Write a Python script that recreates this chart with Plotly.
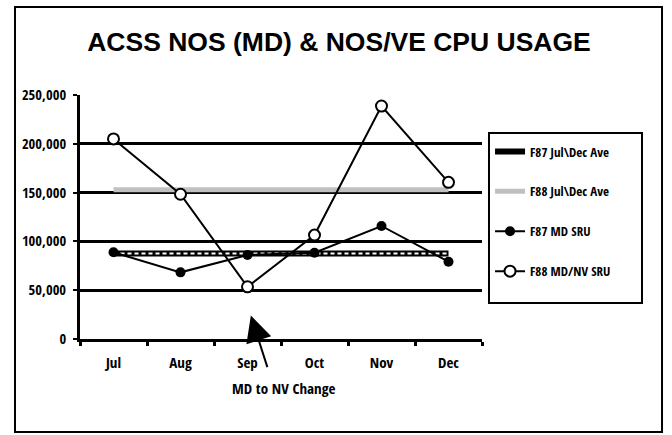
import plotly.graph_objects as go

months = ["Jul", "Aug", "Sep", "Oct", "Nov", "Dec"]
f87_ave = [87700, 87700, 87700, 87700, 87700, 87700]
f88_ave = [153000, 153000, 153000, 153000, 153000, 153000]
f87_md_sru = [88800, 68300, 86000, 88400, 115800, 79200]
f88_mdnv_sru = [205000, 148300, 53500, 106500, 238700, 160500]
y_ticks = [0, 50000, 100000, 150000, 200000, 250000]
y_tick_text = ["0", "50,000", "100,000", "150,000", "200,000", "250,000"]

FONT = "Open Sans Condensed, Roboto Condensed, Liberation Sans, Arial, sans-serif"

fig = go.Figure()

fig.add_trace(go.Scatter(x=months, y=f87_ave, mode="lines", name="F87 Jul\\Dec Ave",
                         line=dict(color="black", width=6), legendgroup="a"))
fig.add_trace(go.Scatter(x=months, y=f87_ave, mode="lines", showlegend=False,
                         line=dict(color="white", width=2, dash="4px,3px"), legendgroup="a",
                         hoverinfo="skip"))
fig.add_trace(go.Scatter(x=months, y=f88_ave, mode="lines", name="F88 Jul\\Dec Ave",
                         line=dict(color="#c0c0c0", width=5), legendgroup="b"))
fig.add_trace(go.Scatter(x=months, y=f87_md_sru, mode="lines+markers", name="F87 MD SRU",
                         line=dict(color="black", width=2),
                         marker=dict(symbol="circle", size=10, color="black"), legendgroup="c"))
fig.add_trace(go.Scatter(x=months, y=f88_mdnv_sru, mode="lines+markers", name="F88 MD/NV SRU",
                         line=dict(color="black", width=2),
                         marker=dict(symbol="circle", size=11, color="white",
                                     line=dict(color="black", width=2)), legendgroup="d"))

fig.update_layout(
    width=672, height=435,
    margin=dict(l=80, r=190, t=95, b=96),
    paper_bgcolor="white", plot_bgcolor="white",
    font=dict(family=FONT, size=13, color="black", weight="bold"),
    title=dict(text="ACSS NOS (MD) & NOS/VE CPU USAGE", x=339/672, xanchor="center",
               y=1 - 42/435, yanchor="middle", yref="container",
               font=dict(family="Liberation Sans, Arial, sans-serif", size=26.5, weight="bold", color="black")),
    showlegend=True,
    legend=dict(x=1.02, xanchor="left", y=0.83, yanchor="top",
                bgcolor="rgba(0,0,0,0)", borderwidth=0,
                tracegroupgap=20, itemwidth=30,
                font=dict(family=FONT, size=13, weight="bold")),
)

fig.update_xaxes(
    type="category", range=[-0.5, 5.5], tickson="boundaries",
    showline=True, linecolor="black", linewidth=3,
    ticks="outside", ticklen=4, tickwidth=3, tickcolor="black",
    showgrid=False, zeroline=False, ticklabelstandoff=8,
    tickfont=dict(family=FONT, size=15, weight="bold"),
)
fig.update_yaxes(
    range=[0, 250000], tickvals=y_ticks, ticktext=y_tick_text,
    showline=True, linecolor="black", linewidth=3,
    ticks="outside", ticklen=4, tickwidth=2, tickcolor="black",
    showgrid=True, gridcolor="black", gridwidth=2.5, zeroline=False,
    ticklabelstandoff=4,
    tickfont=dict(family=FONT, size=14.5, weight="bold"),
)

# outer frame
fig.add_shape(type="rect", xref="paper", yref="paper",
              x0=-0.1617, x1=1.4478, y0=-0.381, y1=1.3607,
              line=dict(color="black", width=2), fillcolor="rgba(0,0,0,0)")
# legend box
fig.add_shape(type="rect", xref="paper", yref="paper",
              x0=1.0174, x1=1.398, y0=0.1475, y1=0.844,
              line=dict(color="black", width=2), fillcolor="rgba(0,0,0,0)")

# arrow
fig.add_annotation(x=2.05, y=24000, xref="x", yref="y", ax=17, ay=53,
                   text="", showarrow=True, arrowhead=2, arrowsize=2.6, arrowwidth=2,
                   arrowcolor="black")
fig.add_annotation(x=2.53, xref="x", y=(339-388)/244, yref="paper", yanchor="middle",
                   text="MD to NV Change", showarrow=False,
                   font=dict(family=FONT, size=15, weight="bold"))

fig.write_html("out.html", config={"displayModeBar": False},
               post_script="document.body.style.margin='0';")
